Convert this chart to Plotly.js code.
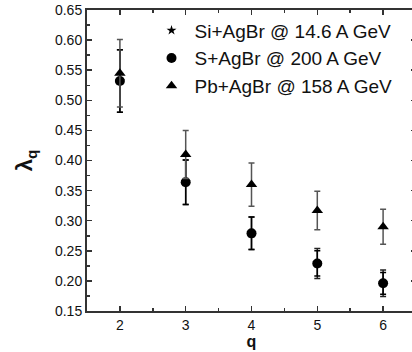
<!DOCTYPE html>
<html><head><meta charset="utf-8">
<script src="https://cdn.plot.ly/plotly-3.0.1.min.js"></script>
<style>html,body{margin:0;padding:0;overflow:hidden;background:#fff}</style>
</head><body>
<div id="chart" style="width:420px;height:352px"></div>
<script>
var q = [2, 3, 4, 5, 6];
var siVals = [0.532, 0.364, 0.279, 0.229, 0.196];
var siErr = [0.052, 0.037, 0.027, 0.025, 0.022];
var sVals = [0.532, 0.364, 0.279, 0.229, 0.196];
var sErr = [0.052, 0.037, 0.027, 0.021, 0.018];
var pbVals = [0.545, 0.410, 0.360, 0.317, 0.290];
var pbErr = [0.056, 0.040, 0.036, 0.032, 0.029];
var names = ['Si+AgBr @ 14.6 A GeV', 'S+AgBr @ 200 A GeV', 'Pb+AgBr @ 158 A GeV'];

function tr(y, e, name, sym, size, ecol) {
  return {x: q, y: y, name: name, type: 'scatter', mode: 'markers',
    marker: {symbol: sym, size: size, color: '#000'},
    error_y: {type: 'data', array: e, visible: true, color: ecol, thickness: 1.5, width: 3}};
}
var data = [
  tr(siVals, siErr, names[0], 'star', 7.5, '#222'),
  tr(sVals, sErr, names[1], 'circle', 10, '#000'),
  tr(pbVals, pbErr, names[2], 'triangle-up', 10, '#555')
];
var axisCommon = {showline: true, linecolor: '#333', linewidth: 2, mirror: 'ticks',
  ticks: 'inside', ticklen: 5, tickwidth: 1.5, tickcolor: '#333', showgrid: false, zeroline: false,
  tickfont: {family: 'Liberation Sans, Arial, sans-serif', size: 14, color: '#111'}};
var layout = {
  width: 420, height: 352,
  margin: {l: 87, r: 4, t: 10, b: 41},
  paper_bgcolor: '#fff', plot_bgcolor: '#fff',
  showlegend: true,
  legend: {x: 0.187, y: 0.995, xanchor: 'left', yanchor: 'top', bgcolor: 'rgba(0,0,0,0)',
    itemwidth: 36,
    font: {family: 'Liberation Sans, Arial, sans-serif', size: 19, color: '#111'}, tracegroupgap: 0},
  xaxis: Object.assign({}, axisCommon, {range: [1.5, 6.5], dtick: 1, tick0: 0,
    minor: {dtick: 0.5, ticks: 'inside', ticklen: 3, tickcolor: '#333'},
    title: {text: '<b>q</b>', standoff: 2, font: {family: 'Liberation Sans, Arial, sans-serif', size: 16, color: '#111'}}}),
  yaxis: Object.assign({}, axisCommon, {range: [0.15, 0.65], dtick: 0.05, tick0: 0, tickformat: '.2f',
    minor: {dtick: 0.025, ticks: 'inside', ticklen: 3, tickcolor: '#333'},
    title: {text: '<b>λ<sub>q</sub></b>', standoff: 16, font: {family: 'Liberation Sans, Arial, sans-serif', size: 22, color: '#111'}}})
};
Plotly.newPlot('chart', data, layout, {displayModeBar: false, staticPlot: true});
</script>
</body></html>
